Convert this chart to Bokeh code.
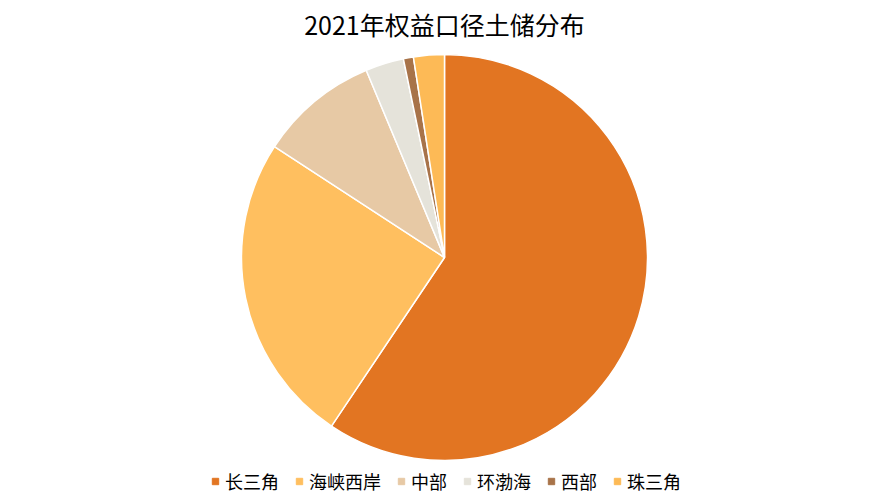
import math
from bokeh.plotting import figure
from bokeh.models import Range1d, Label, Legend, LegendItem, ColumnDataSource
from bokeh.embed import file_html
from bokeh.resources import INLINE

categories = ["长三角", "海峡西岸", "中部", "环渤海", "西部", "珠三角"]
shares = [59.4, 24.8, 9.5, 3.05, 0.8, 2.45]
colors = ["#E27522", "#FFBF5F", "#E7C9A5", "#E5E3DA", "#A87349", "#FDBA56"]
title_text = "2021年权益口径土储分布"

W, H = 888, 500
p = figure(width=W, height=H, output_backend="svg", toolbar_location=None,
           x_range=Range1d(0, W), y_range=Range1d(0, H), min_border=0,
           outline_line_color=None, background_fill_color="white", border_fill_color="white")
p.axis.visible = False
p.grid.visible = False

total = sum(shares)
starts, ends = [], []
acc = 0.0
for s in shares:
    starts.append(math.pi / 2 - 2 * math.pi * acc / total)
    acc += s
    ends.append(math.pi / 2 - 2 * math.pi * acc / total)

src = ColumnDataSource(dict(x=[444] * len(shares), y=[243] * len(shares),
                            start=starts, end=ends, color=colors, cat=categories))
p.wedge(x="x", y="y", radius=203, start_angle="start", end_angle="end",
        direction="clock", fill_color="color", line_color="white", line_width=1.5, source=src)

items = []
for c, col in zip(categories, colors):
    r = p.scatter(x=[-1000], y=[-1000], marker="square", fill_color=col, line_color=col, size=6)
    items.append(LegendItem(label=c, renderers=[r]))

legend = Legend(items=items, orientation="horizontal", location="bottom_center",
                glyph_width=16, glyph_height=16, label_standoff=2, spacing=12,
                label_text_font="Noto Sans CJK SC", label_text_font_size="18px",
                label_text_color="#000000", label_height=18,
                border_line_color=None, background_fill_alpha=0, padding=0, margin=6)
p.add_layout(legend)

p.add_layout(Label(x=444, y=477, text=title_text, text_align="center", text_baseline="middle",
                   text_font="Noto Sans CJK SC", text_font_size="25px",
                   text_color="#000000"))

open("out.html", "w").write(file_html(p, INLINE))
